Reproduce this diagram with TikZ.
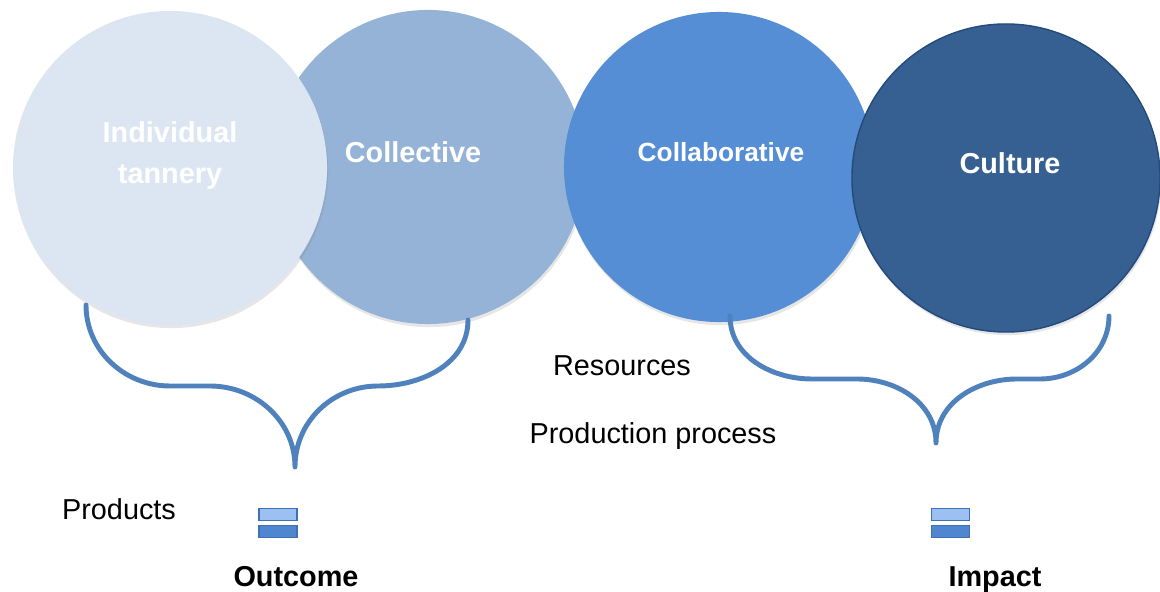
\documentclass[tikz,border=0pt]{standalone}
\usepackage{fontspec}
\setmainfont{Liberation Sans}
\usetikzlibrary{positioning,shadows}
\usepackage{xcolor}
\definecolor{paleblue}{HTML}{DCE6F2}
\definecolor{softblue}{HTML}{95B3D7}
\definecolor{midblue}{HTML}{558ED5}
\definecolor{deepblue}{HTML}{376092}
\definecolor{deepline}{HTML}{244A7C}
\definecolor{bracecol}{HTML}{4F81BD}
\definecolor{barlight}{HTML}{9CC0F2}
\definecolor{barmid}{HTML}{4F86CF}
\definecolor{barline}{HTML}{3F70B5}

\begin{document}
\begin{tikzpicture}[x=0.025cm, y=0.025cm,
  font=\fontsize{20.5}{29}\selectfont,
  stage/.style={circle, inner sep=0pt,
    drop shadow={shadow xshift=0.8pt, shadow yshift=-2.2pt, opacity=0.2}},
  stagetext/.style={text=white, font=\fontsize{20.5}{29}\selectfont\bfseries, align=center},
  brace/.style={draw=bracecol, line width=3.5pt, line cap=round, line join=round},
  bar/.style={draw=barline, line width=0.8pt, minimum width=0.95cm,
    minimum height=0.32cm, inner sep=0pt},
  ]
  \useasboundingbox (0,0) rectangle (1160,592);

  % Circles, back to front
  \node[stage, fill=softblue, minimum size=7.85cm] (collective) at (428,425) {};
  \node[stage, fill=paleblue, minimum size=7.85cm] (individual) at (170,424) {};
  \node[stage, fill=midblue, minimum size=7.75cm] (collab) at (719,425) {};
  \node[stage, fill=deepblue, draw=deepline, line width=1pt, minimum size=7.7cm] (culture) at (1006,414) {};

  % Circle labels
  \node[stagetext] (individualtxt) at (170,436.5) {Individual\\tannery};
  \node[stagetext, anchor=base] (collectivetxt) at (413,429.5) {Collective};
  \node[stagetext, anchor=base, font=\fontsize{18.7}{26}\selectfont\bfseries] (collabtxt) at (721,430) {Collaborative};
  \node[stagetext, anchor=base] (culturetxt) at (1010,418.5) {Culture};

  % Left brace: Outcome
  \coordinate (lb1) at (86,287);
  \coordinate (lb2) at (170,206);
  \coordinate (lb3) at (210,206);
  \coordinate (lbt) at (295,125);
  \coordinate (lb4) at (378,206);
  \coordinate (lb5) at (468,272);
  \draw[brace] (lb1) to[out=-90,in=180] (lb2) -- (lb3) to[out=0,in=90] (lbt)
    to[out=90,in=180] (lb4) to[out=0,in=-90] (lb5);

  % Right brace: Impact
  \coordinate (rb1) at (730,276);
  \coordinate (rb2) at (812,213);
  \coordinate (rb3) at (857,213);
  \coordinate (rbt) at (936,149);
  \coordinate (rb4) at (1017,213);
  \coordinate (rb5) at (1040,213);
  \coordinate (rb6) at (1109,276);
  \draw[brace] (rb1) to[out=-90,in=180] (rb2) -- (rb3) to[out=0,in=90] (rbt)
    to[out=90,in=180] (rb4) -- (rb5) to[out=0,in=-90] (rb6);

  % Plain labels
  \node[anchor=base] (resources) at (622,216.5) {Resources};
  \node[anchor=base] (process) at (653,148) {Production process};
  \node[anchor=base] (products) at (119,72) {Products};
  \node[anchor=base, font=\fontsize{20.5}{29}\selectfont\bfseries] (outcome) at (296,5.5) {Outcome};
  \node[anchor=base, font=\fontsize{20.5}{29}\selectfont\bfseries] (impact) at (995,5.5) {Impact};

  % Small bar icons
  \node[bar, fill=barlight] (outbar1) at (278,77.5) {};
  \node[bar, fill=barmid] (outbar2) at (278,60.5) {};
  \node[bar, fill=barlight] (impbar1) at (950.5,77.5) {};
  \node[bar, fill=barmid] (impbar2) at (950.5,60.5) {};
\end{tikzpicture}
\end{document}
